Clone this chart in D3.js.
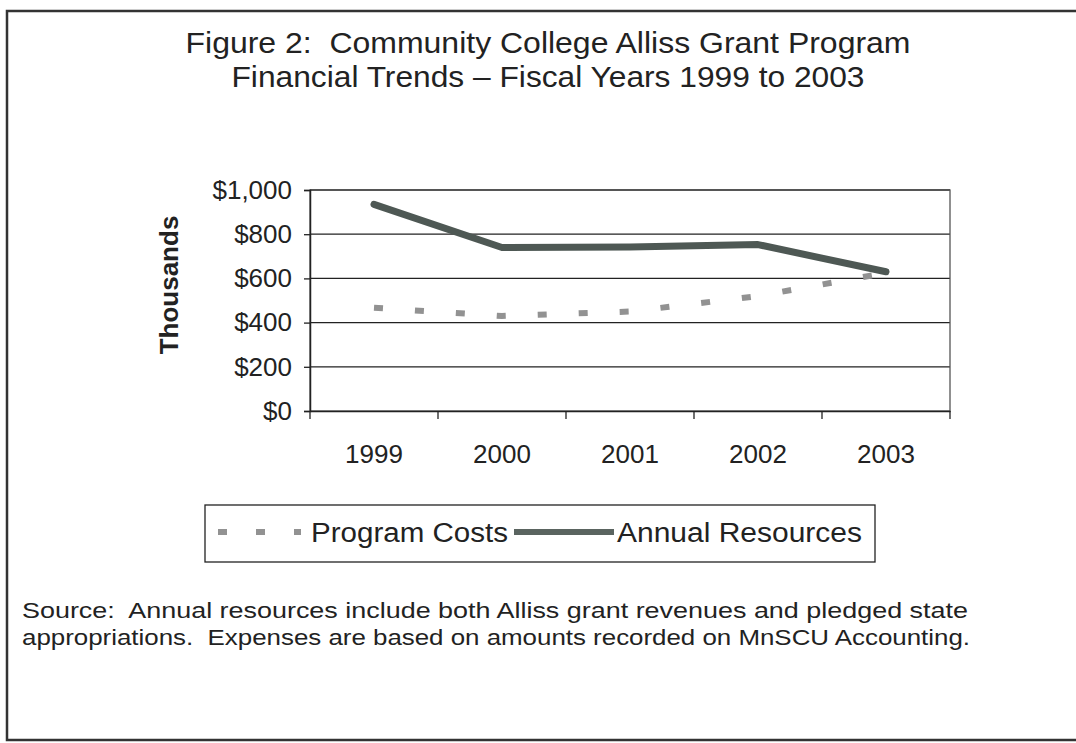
<!DOCTYPE html>
<html>
<head>
<meta charset="utf-8">
<script src="https://cdn.jsdelivr.net/npm/d3@7"></script>
<style>
  body { margin: 0; background: #fff; }
  svg { display: block; font-family: "Liberation Sans", Arial, sans-serif; }
  text { white-space: pre; }
</style>
</head>
<body>
<div id="chart"></div>
<script>
// data (thousands of dollars)
var years = ["1999", "2000", "2001", "2002", "2003"];
var programCosts = [467, 430, 450, 520, 625];
var annualResources = [935, 740, 742, 753, 630];
var yTicks = [0, 200, 400, 600, 800, 1000];
var titleLines = ["Figure 2:  Community College Alliss Grant Program",
                  "Financial Trends \u2013 Fiscal Years 1999 to 2003"];
var sourceLines = ["Source:  Annual resources include both Alliss grant revenues and pledged state",
                   "appropriations.  Expenses are based on amounts recorded on MnSCU Accounting."];

const W = 1076, H = 743;
const margin = { top: 190, right: 126, bottom: 332, left: 310 },
  width = W - margin.left - margin.right,
  height = H - margin.top - margin.bottom;

const root = d3.select("#chart").append("svg")
  .attr("width", W)
  .attr("height", H);

// outer frame, runs off the right edge like the scan
root.append("rect")
  .attr("x", 7).attr("y", 11)
  .attr("width", W + 20).attr("height", 729)
  .attr("fill", "none")
  .attr("stroke", "#333")
  .attr("stroke-width", 2.5);

// title (the scan is a bit stretched sideways, so widths are pinned)
var titleWidths = [725, 633];
root.append("g").selectAll("text")
  .data(titleLines)
  .join("text")
  .attr("x", 548)
  .attr("y", (d, i) => 53 + i * 34)
  .attr("text-anchor", "middle")
  .attr("font-size", 29)
  .attr("fill", "#222")
  .attr("textLength", (d, i) => titleWidths[i])
  .attr("lengthAdjust", "spacingAndGlyphs")
  .text(d => d);

const svg = root.append("g")
  .attr("transform", `translate(${margin.left}, ${margin.top})`);

const x = d3.scaleBand().domain(years).range([0, width]);
const y = d3.scaleLinear().domain([0, 1000]).range([height, 0]);

// gridlines
svg.append("g")
  .selectAll("line")
  .data(yTicks.filter(d => d > 0))
  .join("line")
  .attr("x1", 0).attr("x2", width)
  .attr("y1", d => y(d)).attr("y2", d => y(d))
  .attr("stroke", "#222")
  .attr("stroke-width", 1.3);

// plot area border
svg.append("rect")
  .attr("width", width).attr("height", height)
  .attr("fill", "none")
  .attr("stroke", "#555")
  .attr("stroke-width", 1.3);

// y axis
const yAxis = svg.append("g")
  .call(d3.axisLeft(y).tickValues(yTicks).tickSize(6).tickPadding(12)
    .tickFormat(d => "$" + d3.format(",")(d)));
yAxis.select(".domain").attr("stroke", "#222").attr("stroke-width", 1.5);
yAxis.selectAll(".tick line").attr("stroke", "#222").attr("stroke-width", 1.3);
yAxis.selectAll("text")
  .attr("font-size", 26)
  .attr("fill", "#222")
  .attr("font-family", "'Liberation Sans', Arial, sans-serif");

// x axis: ticks on category boundaries
const xAxis = svg.append("g")
  .attr("transform", `translate(0, ${height})`)
  .call(d3.axisBottom(x).tickSize(0).tickPadding(34));
xAxis.select(".domain").attr("stroke", "#222").attr("stroke-width", 1.5);
xAxis.selectAll("text")
  .attr("font-size", 26)
  .attr("fill", "#222")
  .attr("font-family", "'Liberation Sans', Arial, sans-serif");
svg.append("g")
  .selectAll("line")
  .data(d3.range(years.length + 1))
  .join("line")
  .attr("x1", i => i * x.step()).attr("x2", i => i * x.step())
  .attr("y1", height).attr("y2", height + 8)
  .attr("stroke", "#222")
  .attr("stroke-width", 1.3);

// axis title
root.append("text")
  .attr("transform", "translate(178, 285) rotate(-90)")
  .attr("text-anchor", "middle")
  .attr("font-size", 26)
  .attr("font-weight", "bold")
  .attr("fill", "#222")
  .text("Thousands");

const cx = d => x(d) + x.bandwidth() / 2;

// program costs, dashed
svg.append("path")
  .datum(years.map((d, i) => [d, programCosts[i]]))
  .attr("fill", "none")
  .attr("stroke", "#929292")
  .attr("stroke-width", 6)
  .attr("stroke-dasharray", "9,32")
  .attr("d", d3.line().x(d => cx(d[0])).y(d => y(d[1])));

// annual resources, solid
svg.append("path")
  .datum(years.map((d, i) => [d, annualResources[i]]))
  .attr("fill", "none")
  .attr("stroke", "#4e5854")
  .attr("stroke-width", 7)
  .attr("stroke-linejoin", "round")
  .attr("stroke-linecap", "round")
  .attr("d", d3.line().x(d => cx(d[0])).y(d => y(d[1])));

// legend
const lg = root.append("g");
lg.append("rect")
  .attr("x", 205).attr("y", 505)
  .attr("width", 670).attr("height", 57)
  .attr("fill", "none")
  .attr("stroke", "#222")
  .attr("stroke-width", 1.3);
lg.append("line")
  .attr("x1", 218).attr("x2", 301)
  .attr("y1", 532).attr("y2", 532)
  .attr("stroke", "#929292")
  .attr("stroke-width", 6)
  .attr("stroke-dasharray", "9,29");
lg.append("text")
  .attr("x", 311).attr("y", 542)
  .attr("font-size", 27)
  .attr("fill", "#222")
  .attr("textLength", 197)
  .attr("lengthAdjust", "spacingAndGlyphs")
  .text("Program Costs");
lg.append("line")
  .attr("x1", 514).attr("x2", 614)
  .attr("y1", 532).attr("y2", 532)
  .attr("stroke", "#5a6460")
  .attr("stroke-width", 6);
lg.append("text")
  .attr("x", 617).attr("y", 542)
  .attr("font-size", 27)
  .attr("fill", "#222")
  .attr("textLength", 245)
  .attr("lengthAdjust", "spacingAndGlyphs")
  .text("Annual Resources");

// source note
var sourceWidths = [946, 948];
root.append("g").selectAll("text")
  .data(sourceLines)
  .join("text")
  .attr("x", 22)
  .attr("y", (d, i) => 618 + i * 27)
  .attr("font-size", 22)
  .attr("fill", "#222")
  .attr("textLength", (d, i) => sourceWidths[i])
  .attr("lengthAdjust", "spacingAndGlyphs")
  .text(d => d);
</script>
</body>
</html>
